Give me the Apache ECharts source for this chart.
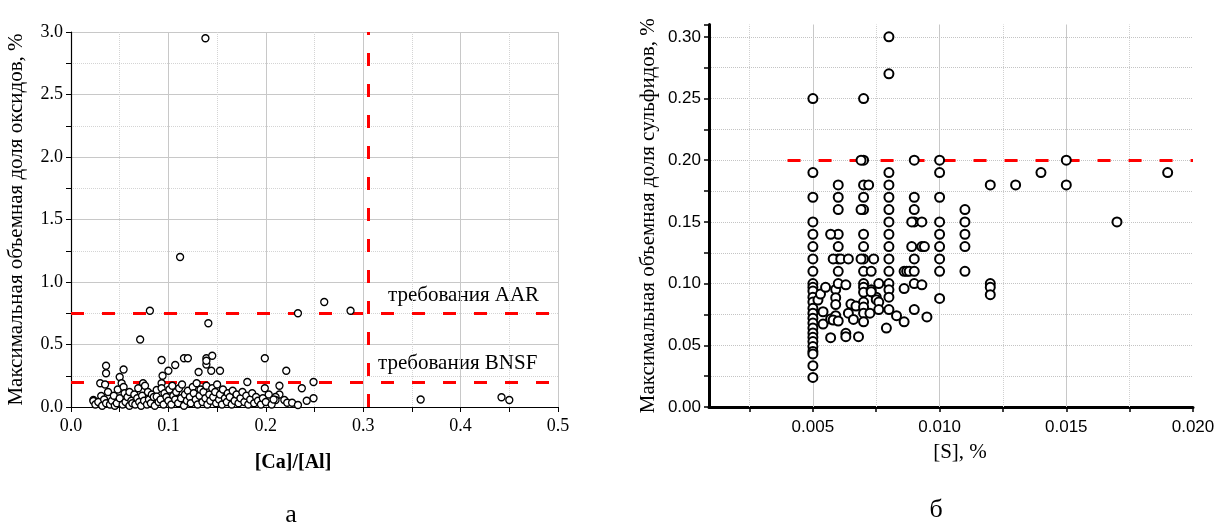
<!DOCTYPE html>
<html><head><meta charset="utf-8">
<script src="https://cdn.jsdelivr.net/npm/echarts@6/dist/echarts.min.js"></script>
<style>html,body{margin:0;padding:0;background:#fff}#c{width:1227px;height:528px}</style>
</head><body><div id="c"></div>
<script>
// ---- Panel (а): oxides vs [Ca]/[Al] ----
const oxideOutliers = [
  [0.138,2.95],[0.112,1.20],[0.081,0.77],[0.141,0.67],[0.071,0.54],[0.260,0.84],[0.233,0.75],[0.287,0.77],
  [0.036,0.33],[0.036,0.27],[0.054,0.30],[0.050,0.24],[0.093,0.376],[0.107,0.336],[0.116,0.39],[0.120,0.39],
  [0.139,0.39],[0.145,0.41],[0.139,0.34],[0.139,0.37],[0.144,0.29],[0.131,0.28],[0.153,0.29],[0.100,0.29],[0.094,0.25],
  [0.199,0.39],[0.221,0.29],[0.181,0.20],[0.199,0.15],[0.214,0.17],[0.237,0.15],[0.249,0.20],[0.249,0.07],[0.242,0.05],
  [0.214,0.10],[0.210,0.08],[0.210,0.056],[0.219,0.056],[0.222,0.034],[0.227,0.034],[0.233,0.016],
  [0.359,0.06],[0.442,0.078],[0.450,0.056],
  [0.030,0.19],[0.035,0.18],[0.074,0.19],[0.023,0.056],[0.031,0.088],[0.023,0.048]
];
const oxideCluster = [
  [0.025,0.02],[0.028,0.04],[0.032,0.01],[0.034,0.06],[0.036,0.03],[0.038,0.12],[0.040,0.02],[0.042,0.05],
  [0.044,0.09],[0.045,0.01],[0.047,0.03],[0.048,0.14],[0.050,0.07],[0.052,0.19],[0.053,0.02],[0.054,0.16],
  [0.055,0.11],[0.056,0.04],[0.058,0.08],[0.060,0.12],[0.060,0.01],[0.062,0.05],[0.063,0.03],[0.065,0.10],
  [0.066,0.02],[0.068,0.07],[0.069,0.15],[0.070,0.04],[0.072,0.01],[0.073,0.09],[0.075,0.05],[0.076,0.17],
  [0.078,0.02],[0.079,0.12],[0.080,0.06],[0.082,0.03],[0.083,0.10],[0.085,0.08],[0.086,0.01],[0.088,0.136],
  [0.088,0.083],[0.090,0.04],[0.092,0.06],[0.093,0.19],[0.093,0.15],[0.095,0.02],[0.096,0.11],[0.098,0.08],
  [0.100,0.05],[0.101,0.14],[0.103,0.02],[0.104,0.17],[0.105,0.09],[0.107,0.06],[0.108,0.12],[0.110,0.03],
  [0.111,0.15],[0.113,0.07],[0.114,0.18],[0.116,0.01],[0.117,0.10],[0.119,0.05],[0.120,0.13],[0.122,0.08],
  [0.123,0.03],[0.125,0.16],[0.126,0.11],[0.128,0.06],[0.129,0.19],[0.130,0.02],[0.132,0.09],[0.133,0.14],
  [0.135,0.04],[0.136,0.12],[0.138,0.07],[0.139,0.17],[0.140,0.02],[0.142,0.10],[0.143,0.05],[0.145,0.15],
  [0.146,0.08],[0.148,0.12],[0.149,0.03],[0.150,0.18],[0.152,0.06],[0.153,0.10],[0.155,0.02],[0.156,0.14],
  [0.158,0.07],[0.160,0.04],[0.161,0.11],[0.163,0.08],[0.165,0.02],[0.166,0.13],[0.168,0.05],[0.170,0.10],
  [0.172,0.03],[0.174,0.07],[0.176,0.12],[0.178,0.04],[0.180,0.09],[0.182,0.02],[0.184,0.06],[0.186,0.11],
  [0.188,0.03],[0.190,0.08],[0.192,0.05],[0.195,0.02],[0.197,0.07],[0.200,0.04],[0.203,0.10],[0.206,0.02],[0.208,0.06]
];
const aarLimit = 0.75, bnsfLimit = 0.2, caAlLimit = 0.3055;

// ---- Panel (б): sulfides vs [S] ----
const sulfidePoints = [
  // [S] = 0.005
  [0.005,0.25],[0.005,0.19],[0.005,0.17],[0.005,0.15],[0.005,0.14],[0.005,0.13],[0.005,0.12],[0.005,0.11],
  [0.005,0.10],[0.005,0.097],[0.005,0.094],[0.005,0.089],[0.005,0.085],[0.005,0.080],[0.005,0.076],[0.005,0.072],
  [0.005,0.068],[0.005,0.064],[0.005,0.060],[0.005,0.0565],[0.005,0.053],[0.005,0.049],[0.005,0.045],[0.005,0.043],
  [0.005,0.0335],[0.005,0.024],
  [0.0052,0.0867],[0.0053,0.0915],[0.0055,0.097],[0.0054,0.0772],[0.0054,0.0672],[0.0057,0.0713],[0.0059,0.074],
  [0.0057,0.0562],[0.0059,0.0953],[0.0059,0.0886],[0.0059,0.083],[0.0058,0.0705],
  // 0.006
  [0.006,0.18],[0.006,0.17],[0.006,0.16],[0.006,0.14],[0.006,0.13],[0.006,0.12],[0.006,0.11],[0.006,0.10],[0.006,0.0697],
  [0.0057,0.14],[0.0058,0.12],[0.0061,0.12],[0.0064,0.12],
  [0.0063,0.099],[0.0063,0.0597],[0.0063,0.057],[0.0068,0.057],[0.0064,0.076],[0.0065,0.0834],[0.0067,0.0818],[0.0066,0.071],
  // 0.007
  [0.007,0.25],[0.007,0.20],[0.0069,0.20],[0.007,0.18],[0.0072,0.18],[0.007,0.17],[0.007,0.16],[0.0069,0.16],
  [0.007,0.14],[0.007,0.13],[0.007,0.12],[0.0069,0.12],[0.0074,0.12],[0.007,0.11],[0.0073,0.11],[0.007,0.10],
  [0.007,0.097],[0.007,0.093],[0.007,0.085],[0.007,0.081],[0.007,0.076],[0.007,0.069],
  [0.0073,0.095],[0.0075,0.089],[0.0075,0.087],[0.00725,0.076],[0.0076,0.085],[0.0076,0.079],[0.0076,0.10],[0.0073,0.0934],
  // 0.008
  [0.008,0.30],[0.008,0.27],[0.008,0.19],[0.008,0.18],[0.008,0.17],[0.008,0.16],[0.008,0.15],[0.008,0.14],
  [0.008,0.13],[0.008,0.12],[0.008,0.11],[0.008,0.10],[0.008,0.095],[0.008,0.089],[0.008,0.079],
  [0.0079,0.064],[0.0083,0.074],[0.0086,0.069],[0.0086,0.096],[0.0086,0.11],[0.0087,0.11],[0.0088,0.11],
  // 0.009
  [0.009,0.20],[0.009,0.17],[0.009,0.16],[0.009,0.15],[0.009,0.12],[0.009,0.11],[0.009,0.10],[0.009,0.079],
  [0.0089,0.13],[0.0093,0.13],[0.0094,0.13],[0.0093,0.15],[0.0089,0.15],[0.0093,0.099],[0.0095,0.073],
  // 0.010 and above
  [0.010,0.20],[0.010,0.19],[0.010,0.17],[0.010,0.15],[0.010,0.14],[0.010,0.13],[0.010,0.12],[0.010,0.11],[0.010,0.088],
  [0.011,0.16],[0.011,0.15],[0.011,0.14],[0.011,0.13],[0.011,0.11],
  [0.012,0.18],[0.012,0.10],[0.012,0.097],[0.012,0.091],
  [0.013,0.18],[0.014,0.19],[0.015,0.20],[0.015,0.18],[0.017,0.15],[0.019,0.19]
];
const sulfideLimit = 0.2, sulfideLimitStart = 0.004;
const sLabelValues = [0.005, 0.010, 0.015, 0.020];
const sTickValues = [0.0025, 0.005, 0.0075, 0.010, 0.0125, 0.015, 0.0175, 0.020];
const sMajorGrid = [0.005, 0.010, 0.015];
const sMinorGrid = [0.0025, 0.0075, 0.0125, 0.0175];

const SERIF = 'Liberation Serif', SANS = 'Liberation Sans';
const red = '#ff0000';
const dash = [13, 18];

const chart = echarts.init(document.getElementById('c'), null, {renderer: 'canvas'});
chart.setOption({
  animation: false,
  backgroundColor: '#fff',
  grid: [
    {left: 71, top: 32, width: 487, height: 375},
    {left: 709, top: 24.5, width: 484, height: 382.5}
  ],
  xAxis: [
    {
      gridIndex: 0, type: 'value', min: 0, max: 0.5, interval: 0.1,
      axisLine: {show: true, onZero: false, lineStyle: {color: '#000', width: 1.2}},
      axisTick: {show: true, length: 5, lineStyle: {color: '#000', width: 1}},
      minorTick: {show: true, splitNumber: 2, length: 5, lineStyle: {color: '#000', width: 1}},
      axisLabel: {fontFamily: SERIF, fontSize: 18, color: '#000', margin: 10, formatter: v => v.toFixed(1)},
      splitLine: {show: true, lineStyle: {color: '#c8c8c8', width: 1}},
      minorSplitLine: {show: true, lineStyle: {color: '#d4d4d4', width: 1, type: 'dotted'}}
    },
    {
      gridIndex: 1, type: 'value', min: 0.0009, max: 0.02,
      axisLine: {show: true, onZero: false, lineStyle: {color: '#000', width: 3}},
      axisTick: {show: true, length: 5, customValues: sTickValues, lineStyle: {color: '#000', width: 1.5}},
      axisLabel: {fontFamily: SANS, fontSize: 17, color: '#000', margin: 12, customValues: sLabelValues, formatter: v => v.toFixed(3)},
      splitLine: {show: false}
    }
  ],
  yAxis: [
    {
      gridIndex: 0, type: 'value', min: 0, max: 3, interval: 0.5,
      name: 'Максимальная объемная доля оксидов, %', nameLocation: 'middle', nameGap: 44,
      nameTextStyle: {fontFamily: SERIF, fontSize: 21, color: '#000'},
      axisLine: {show: true, onZero: false, lineStyle: {color: '#000', width: 1.2}},
      axisTick: {show: true, length: 5, lineStyle: {color: '#000', width: 1}},
      minorTick: {show: true, splitNumber: 2, length: 5, lineStyle: {color: '#000', width: 1}},
      axisLabel: {fontFamily: SERIF, fontSize: 18, color: '#000', margin: 8, formatter: v => v.toFixed(1)},
      splitLine: {show: true, lineStyle: {color: '#c8c8c8', width: 1}},
      minorSplitLine: {show: true, lineStyle: {color: '#d4d4d4', width: 1, type: 'dotted'}}
    },
    {
      gridIndex: 1, type: 'value', min: 0, max: 0.31, interval: 0.025,
      name: 'Максимальная объемная доля сульфидов, %', nameLocation: 'middle', nameGap: 50,
      nameTextStyle: {fontFamily: SERIF, fontSize: 21, color: '#000'},
      axisLine: {show: true, onZero: false, lineStyle: {color: '#000', width: 3}},
      axisTick: {show: true, length: 5, lineStyle: {color: '#000', width: 1.5}},
      axisLabel: {fontFamily: SANS, fontSize: 17, color: '#000', margin: 8,
        formatter: v => (Math.abs(v / 0.05 - Math.round(v / 0.05)) < 1e-6) ? v.toFixed(2) : ''},
      splitLine: {show: true, showMaxLine: false, lineStyle: {color: '#c4c4c4', width: 1, type: 'dotted'}}
    }
  ],
  series: [
    {
      type: 'scatter', xAxisIndex: 1, yAxisIndex: 1, data: [], silent: true, z: 1,
      markLine: {
        silent: true, symbol: 'none', animation: false, label: {show: false}, precision: 6,
        data: [
          ...sMajorGrid.map(v => ({xAxis: v, lineStyle: {color: '#c8c8c8', width: 1, type: 'solid'}})),
          ...sMinorGrid.map(v => ({xAxis: v, lineStyle: {color: '#d0d0d0', width: 1, type: 'dotted'}}))
        ]
      }
    },
    {
      type: 'scatter', xAxisIndex: 0, yAxisIndex: 0, data: [], silent: true, z: 2,
      markLine: {
        silent: true, symbol: 'none', animation: false, label: {show: false}, precision: 6,
        lineStyle: {color: red, width: 3, type: dash},
        data: [{yAxis: aarLimit}, {yAxis: bnsfLimit}, {xAxis: caAlLimit}]
      }
    },
    {
      type: 'scatter', xAxisIndex: 1, yAxisIndex: 1, data: [], silent: true, z: 2,
      markLine: {
        silent: true, symbol: 'none', animation: false, label: {show: false}, precision: 6,
        lineStyle: {color: red, width: 3, type: dash},
        data: [[{coord: [sulfideLimitStart, sulfideLimit]}, {coord: [0.02, sulfideLimit]}]]
      }
    },
    {
      type: 'scatter', xAxisIndex: 0, yAxisIndex: 0, z: 5,
      data: oxideOutliers.concat(oxideCluster),
      symbol: 'circle', symbolSize: 7,
      itemStyle: {color: '#fff', borderColor: '#000', borderWidth: 1.3, opacity: 1}
    },
    {
      type: 'scatter', xAxisIndex: 1, yAxisIndex: 1, z: 5,
      data: sulfidePoints,
      symbol: 'circle', symbolSize: 9,
      itemStyle: {color: '#fff', borderColor: '#000', borderWidth: 2, opacity: 1}
    }
  ],
  graphic: [
    {type: 'text', left: 388, top: 285, style: {text: 'требования AAR', font: '21px "Liberation Serif"', fill: '#000'}},
    {type: 'text', left: 378, top: 353, style: {text: 'требования BNSF', font: '21px "Liberation Serif"', fill: '#000'}},
    {type: 'text', x: 293, y: 463, style: {text: '[Ca]/[Al]', font: 'bold 20px "Liberation Serif"', fill: '#000', align: 'center', verticalAlign: 'middle'}},
    {type: 'text', x: 960, y: 452, style: {text: '[S], %', font: '21px "Liberation Serif"', fill: '#000', align: 'center', verticalAlign: 'middle'}},
    {type: 'text', x: 291, y: 515, style: {text: 'а', font: '26px "Liberation Serif"', fill: '#000', align: 'center', verticalAlign: 'middle'}},
    {type: 'text', x: 936, y: 510, style: {text: 'б', font: '26px "Liberation Serif"', fill: '#000', align: 'center', verticalAlign: 'middle'}}
  ]
});
</script>
</body></html>
